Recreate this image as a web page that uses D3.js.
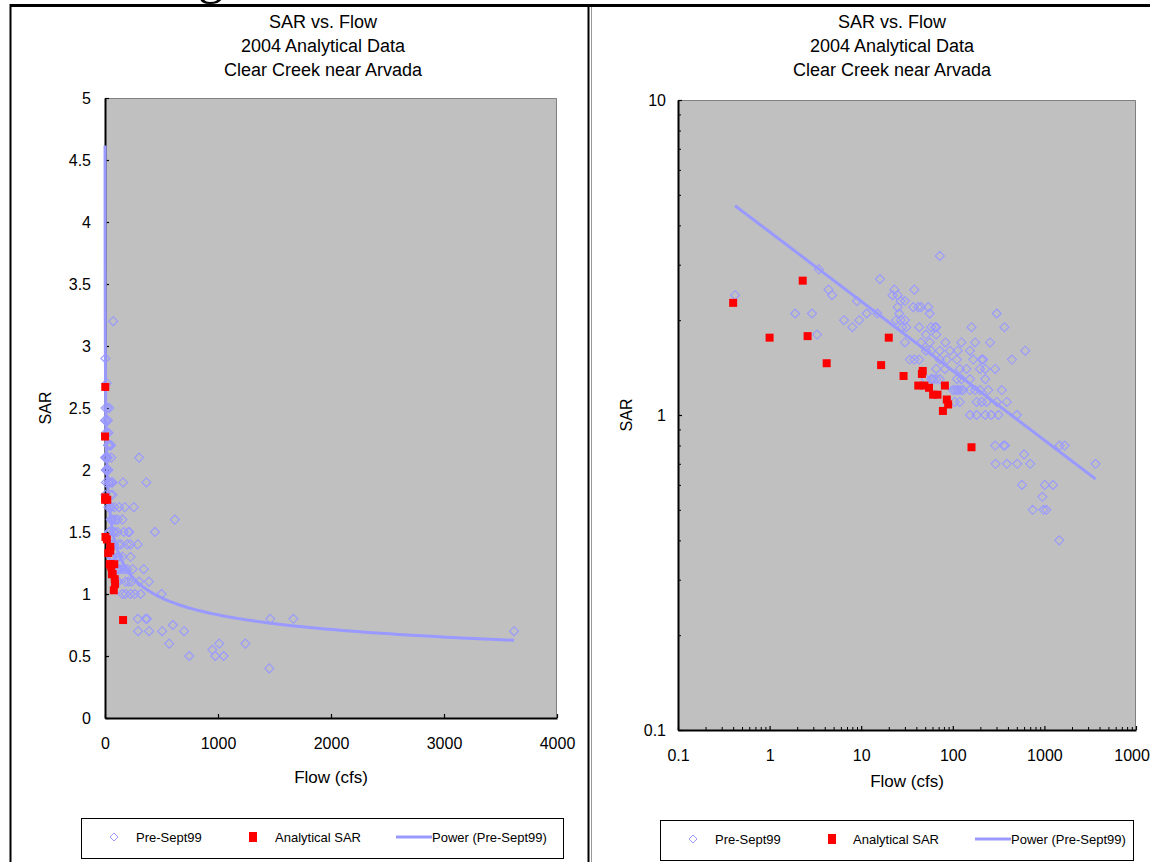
<!DOCTYPE html>
<html><head><meta charset="utf-8">
<script src="https://cdn.jsdelivr.net/npm/d3@7"></script>
<style>
html,body{margin:0;padding:0;background:#fff;overflow:hidden}
svg{display:block;font-family:"Liberation Sans",Arial,sans-serif}
</style></head><body>
<svg id="c" width="1150" height="862"></svg>
<script>
// ---- chart text ----
const titleLines = ["SAR vs. Flow", "2004 Analytical Data", "Clear Creek near Arvada"];
const xTitle = "Flow (cfs)";
const yTitle = "SAR";
const legendLabels = ["Pre-Sept99", "Analytical SAR", "Power (Pre-Sept99)"];

// ---- Pre-Sept99 samples: flow (cfs) and SAR ----
const preFlow = [0.42, 3.45, 16, 72, 4.4, 4.8, 9, 23, 38, 22, 25, 1.9, 2.9, 6.5, 8, 9.5, 11.5, 15, 3.3,
  30, 27, 37, 42, 45, 54, 25, 56, 26, 24, 27, 30,
  43, 58, 64, 66, 28, 31, 160, 366,
  51, 66, 83, 45, 56, 30, 124, 175, 255,
  93, 113, 72, 154, 51, 58, 618,
  34, 43, 38, 72, 86, 111, 167, 207, 215, 442,
  119, 141, 198, 226, 290, 66, 82,
  154, 226, 111, 124, 61, 72, 51, 58, 66,
  343, 111, 124, 154, 175, 198, 244, 100, 105, 116, 130,
  182, 207, 234, 302, 119, 389, 105,
  154, 182, 226, 263, 315, 500,
  290, 360, 372, 1463, 1667,
  600, 293, 390, 506, 700, 3620,
  568, 1011, 1242, 950, 745, 976, 1050, 1454, 302];
const preSar = [2.4, 2.9, 2.7, 3.2, 2.5, 2.4, 2.3, 2.5, 2.5, 2.4, 2.4, 2.1, 2.1, 2.0, 1.9, 2.0, 2.1, 2.1, 1.8,
  2.3, 2.3, 2.2, 2.2, 2.2, 2.2, 2.2, 2.1, 2.1, 2.0, 2.0, 2.0,
  1.9, 1.9, 1.9, 1.9, 1.9, 1.9, 1.9, 1.9,
  1.8, 1.8, 1.7, 1.7, 1.7, 1.7, 1.7, 1.7, 1.7,
  1.6, 1.6, 1.6, 1.6, 1.6, 1.6, 1.6,
  1.5, 1.5, 1.5, 1.5, 1.5, 1.5, 1.5, 1.5, 1.5, 1.5,
  1.4, 1.4, 1.4, 1.4, 1.4, 1.4, 1.4,
  1.3, 1.3, 1.3, 1.3, 1.3, 1.3, 1.3, 1.3, 1.3,
  1.2, 1.2, 1.2, 1.2, 1.2, 1.2, 1.2, 1.2, 1.2, 1.2, 1.2,
  1.1, 1.1, 1.1, 1.1, 1.1, 1.1, 1.1,
  1.0, 1.0, 1.0, 1.0, 1.0, 1.0,
  0.8, 0.8, 0.8, 0.8, 0.8,
  0.75, 0.7, 0.7, 0.7, 0.7, 0.7,
  0.6, 0.6, 0.6, 0.55, 0.5, 0.5, 0.5, 0.4, 2.1];

// ---- 2004 analytical samples ----
const labFlow = [0.4, 2.3, 1.0, 2.6, 4.2, 16.5, 20, 29, 47, 46, 42, 49, 55, 82, 61, 68, 86, 89, 78, 160];
const labSar = [2.27, 2.67, 1.76, 1.78, 1.46, 1.44, 1.76, 1.33, 1.38, 1.35, 1.24, 1.24, 1.22, 1.24, 1.16, 1.16, 1.12, 1.08, 1.03, 0.79];

// ---- axis ticks ----
const linXTicks = [0, 1000, 2000, 3000, 4000];
const linYTicks = [0, 0.5, 1, 1.5, 2, 2.5, 3, 3.5, 4, 4.5, 5];
const logXTicks = [0.1, 1, 10, 100, 1000, 10000];
const logYTicks = [0.1, 1, 10];

// ---- colours ----
const plotFill = "#C0C0C0";
const preColor = "#9999FF";
const labColor = "#FF0000";

const svg = d3.select("#c");

// Power trendline y = a * x^b, least squares in log space (as the spreadsheet computes it)
const fit = (() => {
  const lx = preFlow.map(Math.log), ly = preSar.map(Math.log);
  const n = lx.length;
  const sx = d3.sum(lx), sy = d3.sum(ly);
  const sxy = d3.sum(lx, (v, i) => v * ly[i]);
  const sxx = d3.sum(lx, v => v * v);
  const b = (n * sxy - sx * sy) / (n * sxx - sx * sx);
  const a = Math.exp((sy - b * sx) / n);
  return { a, b };
})();
const [fMin, fMax] = d3.extent(preFlow);
const trendPts = d3.range(0, 301).map(i => {
  const q = Math.exp(Math.log(fMin) + i * (Math.log(fMax) - Math.log(fMin)) / 300);
  return [q, fit.a * Math.pow(q, fit.b)];
});

// page frame
svg.append("line").attr("x1", 10).attr("x2", 1150).attr("y1", 5.5).attr("y2", 5.5)
  .attr("stroke", "#000").attr("stroke-width", 3);
svg.append("line").attr("x1", 10.5).attr("x2", 10.5).attr("y1", 4).attr("y2", 862)
  .attr("stroke", "#000").attr("stroke-width", 2);
svg.append("line").attr("x1", 588.5).attr("x2", 588.5).attr("y1", 4).attr("y2", 862)
  .attr("stroke", "#000").attr("stroke-width", 2);
svg.append("line").attr("x1", 591.5).attr("x2", 591.5).attr("y1", 7).attr("y2", 862)
  .attr("stroke", "#9a9a9a").attr("stroke-width", 1);
// tail of the page heading above the charts
svg.append("text").attr("x", 198).attr("y", -7).attr("font-family", "Liberation Serif, serif")
  .attr("font-size", 52).text("g");

function fmt(v) { return String(v); }

function drawPanel(cfg) {
  const g = svg.append("g");
  const { x0, x1, y0, y1 } = cfg.plot;
  const x = cfg.xScale.range([x0, x1]);
  const y = cfg.yScale.range([y1, y0]);

  g.append("rect").attr("x", x0).attr("y", y0).attr("width", x1 - x0).attr("height", y1 - y0)
    .attr("fill", plotFill);
  // plot frame (top / right)
  g.append("path").attr("d", `M${x0},${y0 + 0.5}H${x1 - 0.5}V${y1}`)
    .attr("fill", "none").attr("stroke", "#808080").attr("stroke-width", 1);

  // titles
  titleLines.forEach((t, i) => {
    g.append("text").attr("x", cfg.titleX).attr("y", 28 + i * 24).attr("text-anchor", "middle")
      .attr("font-size", 18).attr("fill", "#000").text(t);
  });

  // axes
  const ax = d3.axisBottom(x).tickValues(cfg.xTicks).tickFormat(fmt).tickSizeInner(-4).tickSizeOuter(0).tickPadding(20);
  const ay = d3.axisLeft(y).tickValues(cfg.yTicks).tickFormat(fmt).tickSizeInner(-4).tickSizeOuter(0).tickPadding(cfg.yPad);
  const gx = g.append("g").attr("transform", `translate(0,${y1})`).call(ax);
  const gy = g.append("g").attr("transform", `translate(${x0},0)`).call(ay);
  if (cfg.xMinor) {
    g.append("g").attr("transform", `translate(0,${y1})`)
      .call(d3.axisBottom(x).tickValues(cfg.xMinor).tickFormat("").tickSizeInner(-3).tickSizeOuter(0))
      .call(s => s.select(".domain").remove());
    g.append("g").attr("transform", `translate(${x0},0)`)
      .call(d3.axisLeft(y).tickValues(cfg.yMinor).tickFormat("").tickSizeInner(-3).tickSizeOuter(0))
      .call(s => s.select(".domain").remove());
  }
  [gx, gy].forEach(s => {
    s.select(".domain").attr("stroke", "#000").attr("stroke-width", 2);
    s.selectAll(".tick line").attr("stroke", "#000").attr("stroke-width", 1.2);
    s.selectAll(".tick text").attr("font-size", 16).attr("fill", "#000")
      .attr("font-family", "Liberation Sans, Arial, sans-serif");
  });
  g.selectAll(".tick line").attr("stroke", "#000");

  // axis titles
  g.append("text").attr("x", (x0 + x1) / 2).attr("y", cfg.xTitleY).attr("text-anchor", "middle")
    .attr("font-size", 17).text(xTitle);
  g.append("text").attr("transform", `translate(${cfg.yTitleX},${(y0 + y1) / 2}) rotate(-90)`)
    .attr("text-anchor", "middle").attr("font-size", 16).text(yTitle);

  // Pre-Sept99 diamonds
  const r = 4.5;
  const diamond = `M0,${-r}L${r},0L0,${r}L${-r},0Z`;
  g.append("g").selectAll("path").data(preFlow.map((q, i) => [q, preSar[i]])).join("path")
    .attr("d", diamond)
    .attr("transform", d => `translate(${x(d[0])},${y(d[1])})`)
    .attr("fill", "none").attr("stroke", preColor).attr("stroke-width", 1.1);

  // power trendline
  g.append("path").datum(trendPts)
    .attr("d", d3.line().x(d => x(d[0])).y(d => y(d[1])))
    .attr("fill", "none").attr("stroke", preColor).attr("stroke-width", 3);

  // analytical squares
  const s = 8;
  g.append("g").selectAll("rect").data(labFlow.map((q, i) => [q, labSar[i]])).join("rect")
    .attr("x", d => x(d[0]) - s / 2).attr("y", d => y(d[1]) - s / 2)
    .attr("width", s).attr("height", s).attr("fill", labColor);

  // legend
  const L = cfg.legend;
  const lg = g.append("g").attr("transform", `translate(${L.x},${L.y})`);
  lg.append("rect").attr("x", 0.5).attr("y", 0.5).attr("width", L.w).attr("height", L.h)
    .attr("fill", "#fff").attr("stroke", "#000").attr("stroke-width", 1);
  const cy = L.h / 2 - 1;
  const lr = 4;
  lg.append("path").attr("d", `M0,${-lr}L${lr},0L0,${lr}L${-lr},0Z`)
    .attr("transform", `translate(${L.items[0]},${cy})`)
    .attr("fill", "none").attr("stroke", preColor);
  lg.append("rect").attr("x", L.items[2] - 4).attr("y", cy - 5).attr("width", 8).attr("height", 10)
    .attr("fill", labColor);
  lg.append("line").attr("x1", L.items[4]).attr("x2", L.items[4] + 36).attr("y1", cy).attr("y2", cy)
    .attr("stroke", preColor).attr("stroke-width", 3);
  [L.items[1], L.items[3], L.items[5]].forEach((tx, i) => {
    lg.append("text").attr("x", tx).attr("y", cy + 4.5).attr("font-size", 13).text(legendLabels[i]);
  });
}

// linear panel
drawPanel({
  plot: { x0: 105, x1: 557, y0: 98, y1: 718 },
  xScale: d3.scaleLinear().domain([0, 4000]),
  yScale: d3.scaleLinear().domain([0, 5]),
  xTicks: linXTicks, yTicks: linYTicks,
  yPad: 14,
  titleX: 323, xTitleY: 783, yTitleX: 51,
  legend: { x: 81, y: 818, w: 482, h: 40, items: [33, 55, 172, 194, 315, 351] }
});

// log-log panel
const logMinor = v => d3.range(0, v.length - 1).flatMap(i => d3.range(2, 10).map(k => k * v[i]));
drawPanel({
  plot: { x0: 678, x1: 1136, y0: 100, y1: 730 },
  xScale: d3.scaleLog().domain([0.1, 10000]),
  yScale: d3.scaleLog().domain([0.1, 10]),
  xTicks: logXTicks, yTicks: logYTicks,
  xMinor: logMinor(logXTicks), yMinor: logMinor(logYTicks),
  yPad: 12,
  titleX: 892, xTitleY: 787, yTitleX: 632,
  legend: { x: 660, y: 820, w: 473, h: 40, items: [33, 55, 172, 193, 315, 351] }
});
</script>
</body></html>
